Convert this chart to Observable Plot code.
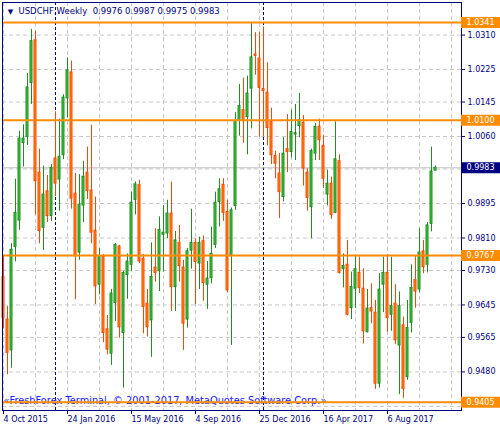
<!DOCTYPE html>
<html>
<head>
<meta charset="utf-8">
<script src="https://cdn.jsdelivr.net/npm/d3@7"></script>
<script src="https://cdn.jsdelivr.net/npm/@observablehq/plot@0.6"></script>
<style>
html, body { margin: 0; padding: 0; background: #ffffff; }
</style>
</head>
<body>
<div id="chart"></div>
<script>
// ---------- data ----------
const symbolTitle = "USDCHF,Weekly";
const titleValues = ["0.9976", "0.9987", "0.9975", "0.9983"];
const firstWeek = "2015-10-04";

const open = [
  0.9714,0.9609,0.9533,0.9788,0.9853,1.0044,1.0059,1.0192,1.0297,0.9971,
  0.9835,0.9925,0.9864,1.0006,0.9954,1.0014,1.0154,1.0218,0.9919,0.9774,
  0.9890,0.9971,0.9927,0.9828,0.9695,0.9763,0.9585,0.9525,0.9650,0.9789,
  0.9576,0.9719,0.9744,0.9904,0.9940,0.9759,0.9648,0.9607,0.9737,0.9728,
  0.9818,0.9821,0.9870,0.9689,0.9798,0.9737,0.9609,0.9779,0.9798,0.9747,
  0.9802,0.9695,0.9711,0.9793,0.9899,0.9941,0.9874,0.9766,0.9889,1.0100,
  1.0125,1.0108,1.0178,1.0262,1.0252,1.0177,1.0168,1.0096,1.0012,0.9969,
  0.9911,1.0029,1.0022,1.0065,1.0086,1.0094,0.9971,0.9886,1.0018,1.0084,
  1.0037,0.9917,0.9944,0.9872,0.9999,0.9733,0.9744,0.9637,0.9685,0.9724,
  0.9685,0.9578,0.9637,0.9626,0.9451,0.9695,0.9724,0.9621,0.9648,0.9545,
  0.9595,0.9467,0.9601,0.9706,0.9683,0.9777,0.9744,0.9845,0.9976
];
const high = [
  0.9766,0.9642,0.9796,0.9955,1.0073,1.0089,1.0215,1.0324,1.0320,1.0029,
  0.9987,0.9964,0.9991,1.0121,1.0103,1.0163,1.0254,1.0246,0.9969,0.9966,
  0.9999,1.0034,1.0088,0.9911,0.9784,0.9769,0.9619,0.9683,0.9796,0.9792,
  0.9728,0.9771,0.9923,0.9948,0.9952,0.9769,0.9683,0.9798,0.9833,0.9862,
  0.9890,0.9903,0.9948,0.9826,0.9841,0.9755,0.9784,0.9881,0.9808,0.9812,
  0.9815,0.9752,0.9837,0.9923,0.9956,0.9956,0.9903,0.9884,1.0119,1.0188,
  1.0204,1.0209,1.0338,1.0316,1.0316,1.0330,1.0242,1.0130,1.0024,1.0018,
  1.0057,1.0114,1.0125,1.0139,1.0166,1.0112,0.9981,1.0029,1.0092,1.0103,
  1.0063,0.9977,0.9960,1.0096,1.0015,0.9771,0.9804,0.9726,0.9767,0.9763,
  0.9734,0.9683,0.9697,0.9656,0.9722,0.9763,0.9769,0.9763,0.9695,0.9677,
  0.9615,0.9656,0.9744,0.9767,0.9833,0.9804,0.9848,1.0034,0.9987
];
const low = [
  0.9586,0.9473,0.9489,0.9751,0.9829,0.9985,1.0038,1.0139,0.9867,0.9796,
  0.9779,0.9848,0.9851,0.9911,0.9876,1.0003,1.0106,0.9881,0.9658,0.9755,
  0.9848,0.9905,0.9796,0.9646,0.9670,0.9552,0.9522,0.9496,0.9604,0.9563,
  0.9440,0.9659,0.9728,0.9867,0.9747,0.9574,0.9566,0.9516,0.9701,0.9678,
  0.9726,0.9808,0.9629,0.9629,0.9701,0.9533,0.9588,0.9733,0.9646,0.9683,
  0.9654,0.9634,0.9697,0.9784,0.9837,0.9851,0.9675,0.9545,0.9878,1.0061,
  1.0043,1.0015,1.0079,1.0211,1.0059,1.0059,1.0037,0.9991,0.9956,0.9858,
  0.9899,0.9971,1.0007,1.0001,1.0057,0.9938,0.9876,0.9808,1.0001,1.0001,
  0.9932,0.9889,0.9856,0.9870,0.9721,0.9687,0.9618,0.9609,0.9636,0.9673,
  0.9549,0.9576,0.9599,0.9437,0.9440,0.9626,0.9578,0.9580,0.9547,0.9424,
  0.9415,0.9459,0.9576,0.9637,0.9675,0.9722,0.9724,0.9825,0.9975
];
const close = [
  0.9613,0.9527,0.9781,0.9872,1.0055,1.0055,1.0181,1.0295,0.9950,0.9827,
  0.9917,0.9864,0.9983,0.9944,1.0010,1.0156,1.0223,0.9907,0.9765,0.9892,
  0.9961,0.9926,0.9823,0.9691,0.9765,0.9576,0.9535,0.9673,0.9793,0.9590,
  0.9724,0.9752,0.9897,0.9942,0.9752,0.9640,0.9590,0.9714,0.9724,0.9830,
  0.9823,0.9870,0.9689,0.9804,0.9741,0.9599,0.9777,0.9798,0.9751,0.9798,
  0.9699,0.9710,0.9771,0.9897,0.9930,0.9872,0.9681,0.9878,1.0098,1.0135,
  1.0098,1.0166,1.0255,1.0259,1.0180,1.0172,1.0081,1.0014,0.9993,0.9923,
  1.0018,1.0022,1.0071,1.0068,1.0100,0.9981,0.9909,1.0024,1.0084,1.0051,
  0.9956,0.9944,0.9867,1.0004,0.9724,0.9741,0.9621,0.9689,0.9733,0.9687,
  0.9580,0.9636,0.9629,0.9451,0.9683,0.9724,0.9613,0.9642,0.9558,0.9642,
  0.9438,0.9588,0.9687,0.9678,0.9774,0.9738,0.9841,0.9974,0.9983
];

// grid levels of the price axis; the ones at 0.9980 and 0.9395 sit under the price boxes
const priceGrid = [1.0310, 1.0225, 1.0145, 1.0060, 0.9980, 0.9895, 0.9810, 0.9730, 0.9645, 0.9565, 0.9480, 0.9395];
const priceLabels = [1.0310, 1.0225, 1.0145, 1.0060, 0.9895, 0.9810, 0.9730, 0.9645, 0.9565, 0.9480];
const dateLabels = ["2015-10-04", "2016-01-24", "2016-05-15", "2016-09-04", "2016-12-25", "2017-04-16", "2017-08-06"];
const dateGrid = ["2015-10-04", "2015-11-29", "2016-01-24", "2016-03-20", "2016-05-15", "2016-07-10", "2016-09-04",
  "2016-10-30", "2016-12-25", "2017-02-19", "2017-04-16", "2017-06-11", "2017-08-06", "2017-10-01", "2017-11-26"];
const periodSeparators = ["2016-01-03", "2017-01-01"];
const levels = [1.0341, 1.0100, 0.9767, 0.9405];
const bidPrice = 0.9983;
const copyright = "«FreshForex Terminal, © 2001-2017, MetaQuotes Software Corp.»";

// ---------- build ----------
const parse = d3.utcParse("%Y-%m-%d");
const WEEK = 7 * 24 * 3600 * 1000;
const start = parse(firstWeek);
const candles = open.map((o, i) => ({
  date: new Date(+start + i * WEEK), open: o, high: high[i], low: low[i], close: close[i]
}));
const bull = candles.filter(d => d.close >= d.open);
const bear = candles.filter(d => d.close < d.open);
const xMin = new Date(+start - 0.25 * WEEK);
const xMax = new Date(+start + 114.5 * WEEK);
const xFar = new Date(+start + 130 * WEEK);
const halfBody = 0.25 * WEEK;

const NAVY = "#000080";
const GRID = "#c8c8c8";
const ORANGE = "#ff8c00";
const bullWick = "#228b22", bullFill = "#32cd32";
const bearWick = "#ff4500", bearFill = "#ff8c00";
const fmtDate = d3.utcFormat("%-d %b %Y");

const chart = Plot.plot({
  width: 500,
  height: 430,
  marginLeft: 2,
  marginRight: 39,
  marginTop: 2,
  marginBottom: 20,
  style: { fontFamily: "DejaVu Sans", fontSize: "8px", color: NAVY, background: "#ffffff", overflow: "visible" },
  x: { type: "utc", domain: [xMin, xMax], ticks: dateLabels.map(parse), tickFormat: () => "", tickSize: 4, label: null },
  y: { domain: [0.93849, 1.03903], axis: "right", ticks: priceLabels, tickFormat: d => d.toFixed(4), tickSize: 3, tickPadding: 3, label: null },
  marks: [
    // grid
    Plot.ruleY(priceGrid, { stroke: GRID, strokeDasharray: "4,3" }),
    Plot.ruleX(dateGrid.map(parse), { stroke: GRID, strokeDasharray: "4,3" }),
    // period separators
    Plot.ruleX(periodSeparators.map(parse), { stroke: NAVY, strokeDasharray: "3,2" }),
    // bid line
    Plot.ruleY([bidPrice], { stroke: "#c0c0c0" }),
    // candles: wicks
    Plot.ruleX(bull, { x: "date", y1: "low", y2: "high", stroke: bullWick }),
    Plot.ruleX(bear, { x: "date", y1: "low", y2: "high", stroke: bearWick }),
    // candles: bodies
    Plot.rect(bull, { x1: d => new Date(+d.date - halfBody), x2: d => new Date(+d.date + halfBody), y1: "open", y2: "close", fill: bullFill, stroke: bullWick, strokeWidth: 1 }),
    Plot.rect(bear, { x1: d => new Date(+d.date - halfBody), x2: d => new Date(+d.date + halfBody), y1: "open", y2: "close", fill: bearFill, stroke: bearWick, strokeWidth: 1 }),
    // copyright
    Plot.text([copyright], { frameAnchor: "bottom-left", dx: 1, dy: -9.5, textAnchor: "start", lineAnchor: "middle", fontSize: 9.8, fill: "#2020f0" }),
    // horizontal levels
    Plot.ruleY(levels, { stroke: ORANGE, strokeWidth: 2 }),
    // frame
    Plot.frame({ stroke: NAVY }),
    // right-side labels
    Plot.ruleY(levels, { y: d => d, x1: xMax, x2: xFar, stroke: ORANGE, strokeWidth: 11 }),
    Plot.text(levels, { y: d => d, frameAnchor: "right", dx: 5, textAnchor: "start", lineAnchor: "middle", text: d => d.toFixed(4), fill: "#ffffff", fontSize: 8 }),
    Plot.ruleY([bidPrice], { y: d => d, x1: xMax, x2: xFar, stroke: NAVY, strokeWidth: 11 }),
    Plot.text([bidPrice], { y: d => d, frameAnchor: "right", dx: 5, textAnchor: "start", lineAnchor: "middle", text: d => d.toFixed(4), fill: "#ffffff", fontSize: 8 }),
    // date labels
    Plot.text(dateLabels.map(parse), { x: d => d, frameAnchor: "bottom", dy: 9, textAnchor: "start", lineAnchor: "middle", text: d => fmtDate(d), fill: NAVY, fontSize: 8 }),
    // title
    Plot.text(["▼"], { frameAnchor: "top-left", dx: 8, dy: 9, textAnchor: "middle", lineAnchor: "middle", fontSize: 7, fill: NAVY }),
    Plot.text([symbolTitle + "\u00a0\u00a0" + titleValues.join(" ")], { frameAnchor: "top-left", dx: 16, dy: 9, textAnchor: "start", lineAnchor: "middle", fontSize: 8.5, fill: NAVY })
  ]
});
document.getElementById("chart").appendChild(chart);
</script>
</body>
</html>
